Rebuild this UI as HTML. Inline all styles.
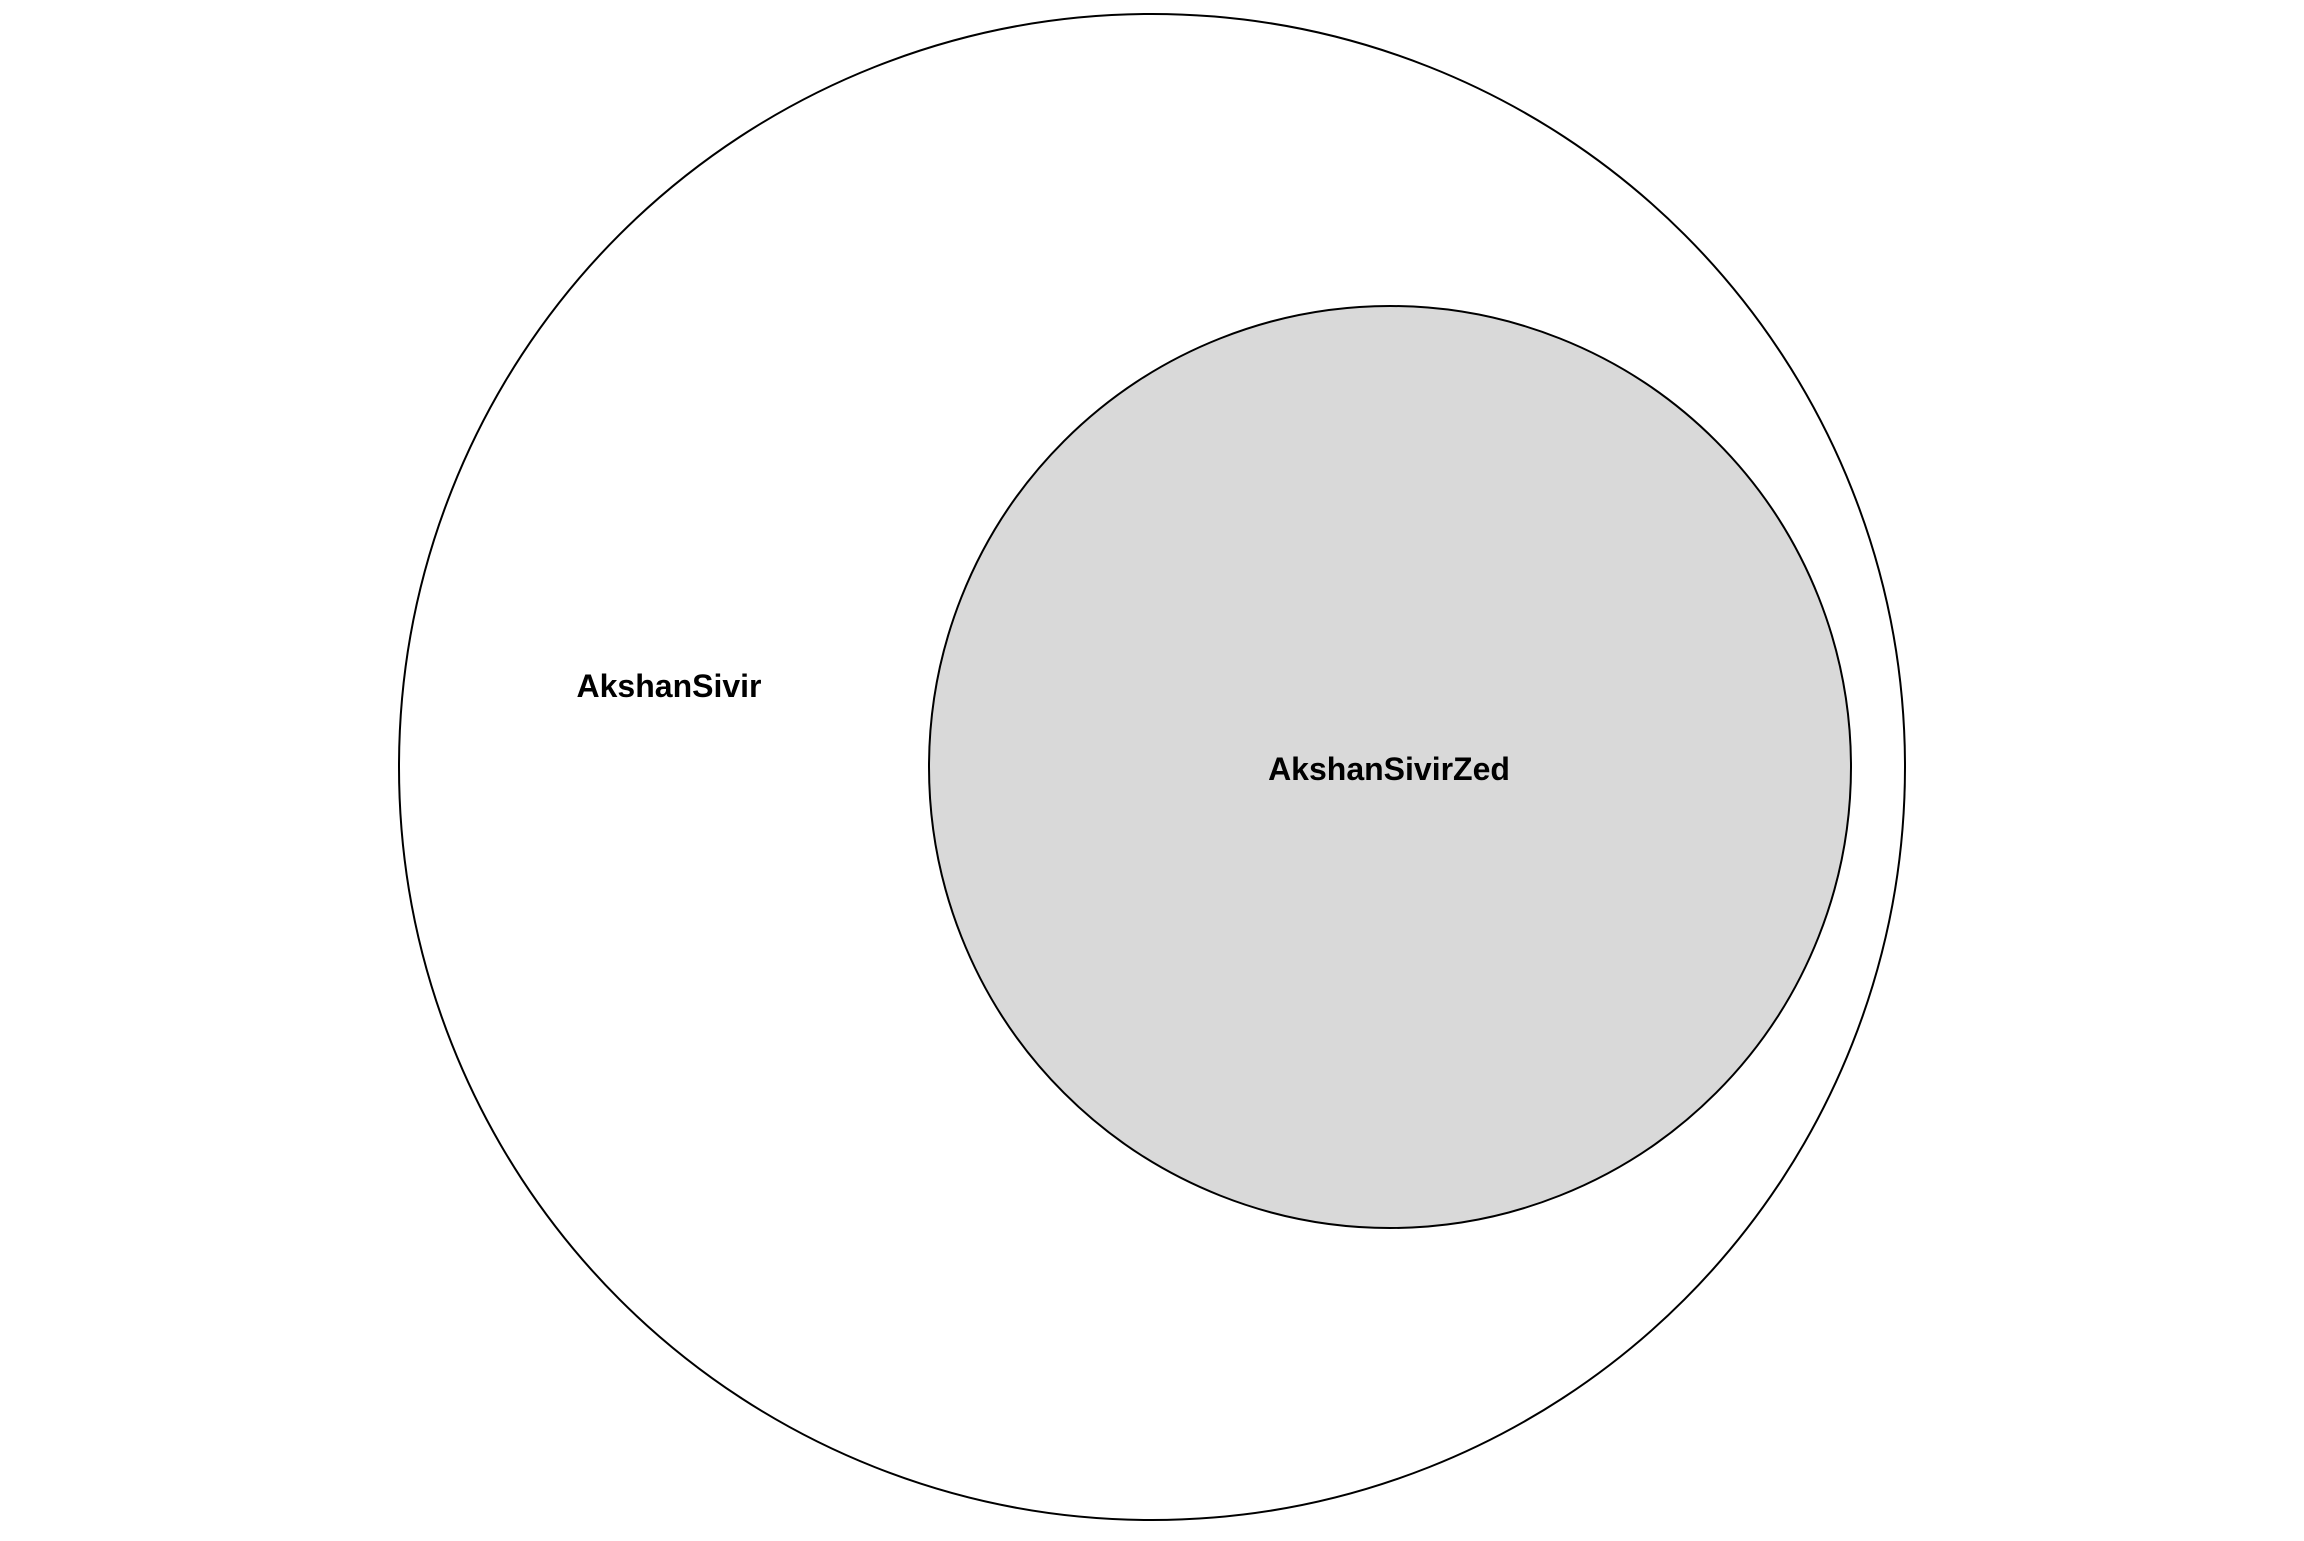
<!DOCTYPE html>
<html><head><meta charset="utf-8"><style>html,body{margin:0;padding:0;background:#fff}</style></head>
<body>
<svg width="2304" height="1536" viewBox="0 0 2304 1536" xmlns="http://www.w3.org/2000/svg">
<rect width="2304" height="1536" fill="#fff"/>
<circle cx="1152" cy="767" r="753" fill="#fff" stroke="#000" stroke-width="2"/>
<circle cx="1390" cy="767" r="461" fill="#d9d9d9" stroke="#000" stroke-width="2"/>
<text x="669" y="697" font-family="Liberation Sans, sans-serif" font-weight="bold" font-size="32" text-anchor="middle" fill="#000">AkshanSivir</text>
<text x="1389" y="780" font-family="Liberation Sans, sans-serif" font-weight="bold" font-size="32" text-anchor="middle" fill="#000">AkshanSivirZed</text>
</svg>
</body></html>
